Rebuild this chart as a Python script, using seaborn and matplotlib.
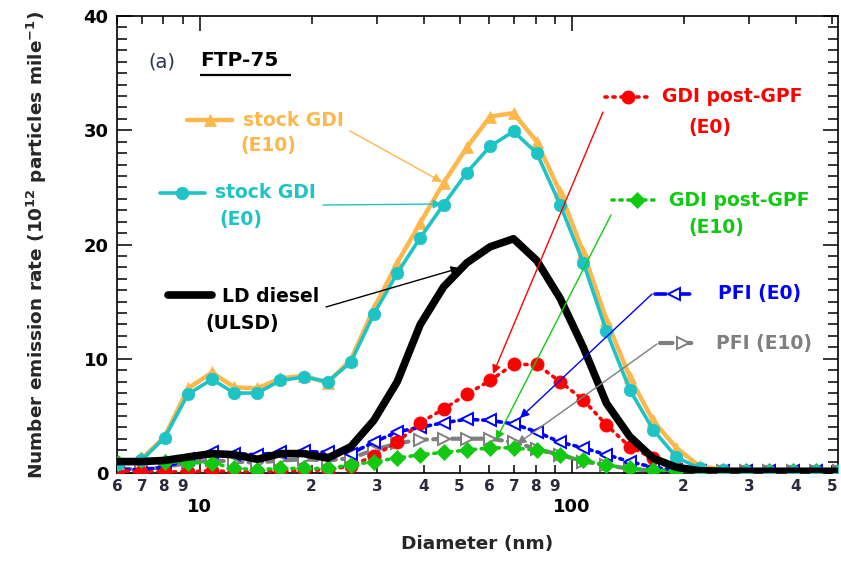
import numpy as np
import pandas as pd
import matplotlib
matplotlib.use("Agg")
import matplotlib.pyplot as plt
import seaborn as sns
from matplotlib.ticker import FixedLocator, LogLocator, FuncFormatter, MultipleLocator

# ---------------- data ----------------
diameter = [6.04, 6.98, 8.06, 9.31, 10.8, 12.4, 14.3, 16.5, 19.1, 22.1, 25.5, 29.4,
            34.0, 39.2, 45.3, 52.3, 60.4, 69.8, 80.6, 93.1, 107.5, 124.1, 143.3, 165.5,
            191.1, 220.7, 254.8, 294.3, 339.8, 392.4, 453.2, 523.3]

stock_gdi_e10 = [0.9, 1.2, 3.2, 7.4, 8.8, 7.5, 7.4, 8.3, 8.5, 7.9, 9.9, 14.4,
                 18.4, 21.9, 25.4, 28.5, 31.2, 31.5, 29.0, 24.6, 19.3, 13.4, 8.4, 4.6,
                 2.2, 0.6, 0.3, 0.2, 0.2, 0.2, 0.2, 0.2]
stock_gdi_e0 = [0.8, 1.1, 3.1, 6.9, 8.2, 7.0, 7.0, 8.1, 8.4, 8.0, 9.7, 13.9,
                17.5, 20.6, 23.5, 26.3, 28.6, 29.9, 28.0, 23.5, 18.4, 12.4, 7.3, 3.8,
                1.4, 0.4, 0.25, 0.2, 0.2, 0.2, 0.2, 0.2]
ld_diesel = [1.0, 1.0, 1.1, 1.4, 1.7, 1.6, 1.2, 1.7, 1.7, 1.3, 2.3, 4.6,
             8.0, 13.0, 16.3, 18.4, 19.8, 20.5, 18.6, 15.3, 11.0, 6.1, 3.2, 1.3,
             0.5, 0.2, 0.15, 0.15, 0.15, 0.15, 0.15, 0.15]
gpf_e0 = [0.2, 0.1, 0.1, 0.1, 0.2, 0.1, 0.1, 0.2, 0.2, 0.3, 0.6, 1.5,
          2.7, 4.4, 5.6, 6.9, 8.1, 9.5, 9.5, 8.0, 6.4, 4.2, 2.3, 1.3,
          0.5, 0.2, 0.2, 0.2, 0.2, 0.2, 0.2, 0.2]
gpf_e10 = [0.9, 1.1, 1.0, 0.9, 0.9, 0.4, 0.3, 0.4, 0.4, 0.4, 0.7, 1.0,
           1.3, 1.6, 1.8, 2.0, 2.2, 2.2, 2.0, 1.6, 1.1, 0.7, 0.4, 0.25,
           0.2, 0.2, 0.2, 0.2, 0.2, 0.2, 0.2, 0.2]
pfi_e0 = [0.3, 0.3, 0.5, 1.2, 1.8, 1.7, 1.6, 1.8, 1.9, 1.8, 1.7, 2.7,
          3.6, 4.0, 4.4, 4.7, 4.6, 4.3, 3.6, 2.7, 2.2, 1.6, 1.0, 0.5,
          0.25, 0.2, 0.2, 0.2, 0.2, 0.2, 0.2, 0.2]
pfi_e10 = [0.4, 0.3, 0.5, 0.9, 1.1, 1.0, 0.9, 1.1, 1.2, 1.1, 1.3, 2.0,
           2.6, 2.9, 3.0, 3.0, 3.0, 2.7, 2.1, 1.6, 1.0, 0.7, 0.35, 0.2,
           0.2, 0.2, 0.2, 0.2, 0.2, 0.2, 0.2, 0.2]

x_major = [10, 100]
y_ticks = [0, 10, 20, 30, 40]

df = pd.DataFrame({
    "diameter": diameter,
    "stock_gdi_e10": stock_gdi_e10,
    "stock_gdi_e0": stock_gdi_e0,
    "ld_diesel": ld_diesel,
    "gpf_e0": gpf_e0,
    "gpf_e10": gpf_e10,
    "pfi_e0": pfi_e0,
    "pfi_e10": pfi_e10,
})

# ---------------- style ----------------
sns.set_style("ticks")
plt.rcParams["font.family"] = ["DejaVu Sans"]
plt.rcParams["mathtext.fontset"] = "dejavusans"
plt.rcParams["mathtext.default"] = "bf"

ORANGE = "#FDB74A"
CYAN = "#1EC3C6"
RED = "#FF0000"
GREEN = "#12C912"
BLUE = "#0000FF"
GRAY = "#7F7F7F"

W, H = 841, 563
L, R, T, B = 117, 838, 16, 473
fig = plt.figure(figsize=(W / 100, H / 100), dpi=100)
ax = fig.add_axes([L / W, (H - B) / H, (R - L) / W, (B - T) / H])


def af(px, py):
    return ((px - L) / (R - L), (B - py) / (B - T))


styles = {
    "pfi_e10": dict(color=GRAY, lw=3.0, ls=(0, (3.0, 1.5)), marker=">", ms=9,
                    markerfacecolor="white", markeredgecolor=GRAY, markeredgewidth=1.4, zorder=2),
    "pfi_e0": dict(color=BLUE, lw=2.6, ls=(0, (3.0, 1.4, 0.8, 1.4)), marker="<", ms=9,
                   markerfacecolor="white", markeredgecolor=BLUE, markeredgewidth=1.4, zorder=3),
    "gpf_e0": dict(color=RED, lw=2.6, ls=(0, (0.6, 1.6)), marker="o", ms=9.5,
                   markerfacecolor=RED, markeredgecolor=RED, markeredgewidth=0.5, zorder=4),
    "gpf_e10": dict(color=GREEN, lw=2.6, ls=(0, (0.6, 1.6)), marker="D", ms=8.5,
                    markerfacecolor=GREEN, markeredgecolor=GREEN, markeredgewidth=0.5, zorder=5),
    "stock_gdi_e10": dict(color=ORANGE, lw=3.2, ls="-", marker="^", ms=9,
                          markerfacecolor=ORANGE, markeredgecolor=ORANGE, markeredgewidth=0.5, zorder=7),
    "stock_gdi_e0": dict(color=CYAN, lw=2.6, ls="-", marker="o", ms=9,
                         markerfacecolor=CYAN, markeredgecolor=CYAN, markeredgewidth=0.5, zorder=8),
    "ld_diesel": dict(color="black", lw=5.5, ls="-", marker=None, zorder=8.5),
}

for col, st in styles.items():
    sns.lineplot(data=df, x="diameter", y=col, ax=ax, legend=False,
                 dash_capstyle="round", solid_joinstyle="round", **st)

# ---------------- axes ----------------
ax.set_xscale("log")
ax.set_xlim(6.0, 520)
ax.set_ylim(0, 40)

ax.xaxis.set_major_locator(FixedLocator(x_major))
ax.xaxis.set_major_formatter(FuncFormatter(lambda v, p: f"{int(v)}"))
ax.xaxis.set_minor_locator(LogLocator(base=10, subs=np.arange(2, 10), numticks=20))


def minor_fmt(v, p):
    d = int(round(v / 10 ** np.floor(np.log10(v) + 1e-9)))
    return str(d)


ax.xaxis.set_minor_formatter(FuncFormatter(minor_fmt))
ax.yaxis.set_major_locator(FixedLocator(y_ticks))
ax.yaxis.set_minor_locator(MultipleLocator(1))

ax.tick_params(axis="both", which="both", direction="in", top=True, right=True, width=1.1, colors="black")
ax.tick_params(axis="x", which="major", length=11, pad=18, labelsize=13)
ax.tick_params(axis="x", which="minor", length=5.5, pad=4, labelsize=11, labelcolor="#2a2a3a")
ax.tick_params(axis="y", which="major", length=11, pad=6, labelsize=13)
ax.tick_params(axis="y", which="minor", length=7)
for lab in ax.get_xticklabels(which="both") + ax.get_yticklabels():
    lab.set_fontweight("bold")
for lab in ax.xaxis.get_minorticklabels():
    lab.set_fontweight("bold")

for s in ax.spines.values():
    s.set_linewidth(1.2)
    s.set_color("black")

ax.set_xlabel("Diameter (nm)", fontsize=13.3, fontweight="bold", labelpad=14)
ax.set_ylabel("Number emission rate (10$^{12}$ particles mile$^{-1}$)",
              fontsize=13.3, fontweight="bold", labelpad=25)
ax.grid(False)

# ---------------- annotations ----------------
TF = 13.5


def key(px0, px1, py, st, mx=None):
    x0, y = af(px0, py)
    x1, _ = af(px1, py)
    xm = af(mx, py)[0] if mx is not None else (x0 + x1) / 2
    kw = {k: v for k, v in st.items() if k not in ("zorder",)}
    ax.plot([x0, xm, x1], [y, y, y], transform=ax.transAxes, markevery=[1],
            dash_capstyle="round", clip_on=False, zorder=9, **kw)


def label(px, py, s, color):
    x, y = af(px, py)
    ax.text(x, y, s, transform=ax.transAxes, color=color, fontsize=TF,
            fontweight="bold", ha="left", va="center", zorder=10)


def arrow(p0, p1, color):
    ax.annotate("", xy=af(*p1), xycoords="axes fraction", xytext=af(*p0),
                textcoords="axes fraction",
                arrowprops=dict(arrowstyle="-|>", color=color, lw=1.0,
                                shrinkA=0, shrinkB=0, mutation_scale=13), zorder=9)


# stock GDI (E10)
key(187, 232, 120, styles["stock_gdi_e10"], 210)
label(243, 120, "stock GDI", ORANGE)
label(240, 146, "(E10)", ORANGE)
arrow((350, 131), (442, 182), ORANGE)

# stock GDI (E0)
key(160, 205, 193, styles["stock_gdi_e0"], 182)
label(215, 193, "stock GDI", CYAN)
label(219, 219, "(E0)", CYAN)
arrow((323, 205), (442, 204), CYAN)

# LD diesel
key(168, 212, 295, styles["ld_diesel"])
label(222, 296, "LD diesel", "black")
label(205, 323, "(ULSD)", "black")
arrow((326, 307), (460, 268), "black")

# GDI post-GPF (E0)
key(605, 650, 97, styles["gpf_e0"], 628)
label(662, 97, "GDI post-GPF", RED)
label(688, 127, "(E0)", RED)
arrow((603, 112), (493, 374), RED)

# GDI post-GPF (E10)
key(612, 657, 200, styles["gpf_e10"], 637)
label(669, 200, "GDI post-GPF", GREEN)
label(688, 228, "(E10)", GREEN)
arrow((611, 215), (496, 440), GREEN)

# PFI (E0)
key(655, 692, 294, styles["pfi_e0"], 674)
label(718, 294, "PFI (E0)", BLUE)
arrow((652, 294), (520, 418), BLUE)

# PFI (E10)
key(660, 692, 343, styles["pfi_e10"], 683)
label(716, 343, "PFI (E10)", GRAY)
arrow((657, 344), (517, 444), GRAY)

# panel title
xa, ya = af(148, 62)
ax.text(xa, ya, "(a)", transform=ax.transAxes, fontsize=14, color="#2b3650",
        ha="left", va="center")
xf, yf = af(200, 61)
ax.text(xf, yf, "FTP-75", transform=ax.transAxes, fontsize=14.5, fontweight="bold",
        color="black", ha="left", va="center")
u0 = af(200, 75)
u1 = af(291, 75)
ax.plot([u0[0], u1[0]], [u0[1], u1[1]], transform=ax.transAxes, color="black", lw=1.6,
        solid_capstyle="butt")

fig.savefig("out.png", dpi=100)
